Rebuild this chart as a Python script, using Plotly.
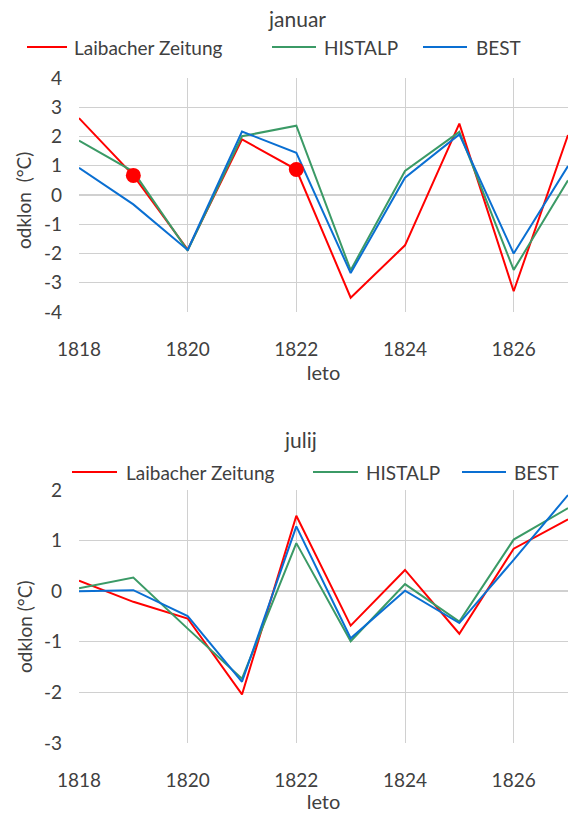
import plotly.graph_objects as go

# Temperature anomalies (°C) by year
years = [1818, 1819, 1820, 1821, 1822, 1823, 1824, 1825, 1826, 1827]
year_ticks = [1818, 1820, 1822, 1824, 1826]

jan_laibacher = [2.63, 0.67, -1.87, 1.90, 0.87, -3.51, -1.72, 2.44, -3.29, 2.05]
jan_histalp = [1.86, 0.80, -1.90, 2.01, 2.37, -2.57, 0.82, 2.16, -2.56, 0.50]
jan_best = [0.93, -0.32, -1.88, 2.17, 1.44, -2.67, 0.59, 2.07, -2.00, 0.99]

jul_laibacher = [0.21, -0.21, -0.54, -2.04, 1.49, -0.68, 0.42, -0.84, 0.84, 1.42]
jul_histalp = [0.06, 0.27, -0.74, -1.73, 0.95, -0.99, 0.14, -0.60, 1.02, 1.64]
jul_best = [0.00, 0.02, -0.49, -1.79, 1.28, -0.93, 0.01, -0.63, 0.62, 1.90]

# January years highlighted on the Laibacher Zeitung series
jan_marked_years = [1819, 1822]

# Value-axis ticks (labels use a plain hyphen for negatives)
jan_yticks = [4, 3, 2, 1, 0, -1, -2, -3, -4]
jul_yticks = [2, 1, 0, -1, -2, -3]

series_names = ["Laibacher Zeitung", "HISTALP", "BEST"]
series_colors = ["#ff0000", "#3b9a66", "#0a6fd2"]

FONT = "Lato"
TEXT = "#404040"
GRID = "#d0d0d0"
FS = 19

W, H = 568, 813
ML, MR, MT, MB = 79, 0, 78, 70
PW = W - ML - MR
PH = H - MT - MB


def px(xp):
    return (xp - ML) / PW


def py(yp):
    return (H - MB - yp) / PH


def tick_labels(vals):
    return [str(v) for v in vals]


fig = go.Figure()

# January (top panel)
for name, color, vals in zip(series_names, series_colors,
                             [jan_laibacher, jan_histalp, jan_best]):
    fig.add_trace(go.Scatter(x=years, y=vals, mode="lines", name=name,
                             line=dict(color=color, width=2),
                             xaxis="x2", yaxis="y2", showlegend=False))
marked_vals = [jan_laibacher[years.index(y)] for y in jan_marked_years]
fig.add_trace(go.Scatter(x=jan_marked_years, y=marked_vals, mode="markers",
                         marker=dict(color="#ff0000", size=15),
                         xaxis="x2", yaxis="y2", showlegend=False))

# July (bottom panel)
for name, color, vals in zip(series_names, series_colors,
                             [jul_laibacher, jul_histalp, jul_best]):
    fig.add_trace(go.Scatter(x=years, y=vals, mode="lines", name=name,
                             line=dict(color=color, width=2),
                             xaxis="x", yaxis="y", showlegend=False))

top_dom = [py(312), 1.0]
bot_dom = [0.0, py(490)]

xcommon = dict(range=[1818, 1827], tickvals=year_ticks, showgrid=True,
               gridcolor=GRID, gridwidth=1, zeroline=False, showline=False,
               ticks="", ticklabelstandoff=24,
               tickfont=dict(family=FONT, size=FS, color=TEXT))
ycommon = dict(showgrid=True, gridcolor=GRID, gridwidth=1,
               zeroline=True, zerolinecolor=GRID, zerolinewidth=1.5,
               showline=False, ticks="", ticklabelstandoff=16,
               tickfont=dict(family=FONT, size=FS, color=TEXT))

fig.update_layout(
    width=W, height=H,
    margin=dict(l=ML, r=MR, t=MT, b=MB),
    paper_bgcolor="white", plot_bgcolor="white",
    showlegend=False,
    xaxis=dict(domain=[0, 1], anchor="y",
               title=dict(text="leto", standoff=3,
                          font=dict(family=FONT, size=20, color=TEXT)),
               **xcommon),
    yaxis=dict(domain=bot_dom, anchor="x", range=[-3, 2],
               tickvals=jul_yticks, ticktext=tick_labels(jul_yticks),
               **ycommon),
    xaxis2=dict(domain=[0, 1], anchor="y2",
                title=dict(text="leto", standoff=3,
                           font=dict(family=FONT, size=20, color=TEXT)),
                **xcommon),
    yaxis2=dict(domain=top_dom, anchor="x2", range=[-4, 4],
                tickvals=jan_yticks, ticktext=tick_labels(jan_yticks),
                **ycommon),
)

# Panel titles
for text, xc, yc in [("januar", 297, 18), ("julij", 300, 440)]:
    fig.add_annotation(text=text, x=px(xc), y=py(yc), xref="paper", yref="paper",
                       showarrow=False, xanchor="center", yanchor="middle",
                       font=dict(family=FONT, size=21, color=TEXT))

# Value-axis titles
for text, yc in [("odklon\u00a0 (°C)", 201), ("odklon (°C)", 627)]:
    fig.add_annotation(text=text, x=px(24), y=py(yc), xref="paper", yref="paper",
                       showarrow=False, xanchor="center", yanchor="middle",
                       textangle=-90,
                       font=dict(family=FONT, size=FS, color=TEXT))

# Legends drawn as line samples with labels
legend_rows = [
    (47, [(27, 67, 72), (272, 316, 322), (423, 467, 474)]),
    (472, [(72, 117, 124), (313, 358, 364), (462, 506, 512)]),
]
for yrow, items in legend_rows:
    for (x0, x1, xt), name, color in zip(items, series_names, series_colors):
        fig.add_shape(type="line", xref="paper", yref="paper",
                      x0=px(x0), x1=px(x1), y0=py(yrow), y1=py(yrow),
                      line=dict(color=color, width=2))
        fig.add_annotation(text=name, x=px(xt), y=py(yrow), xref="paper",
                           yref="paper", showarrow=False, xanchor="left",
                           yanchor="middle",
                           font=dict(family=FONT, size=FS, color=TEXT))

fig.write_html("out.html")
